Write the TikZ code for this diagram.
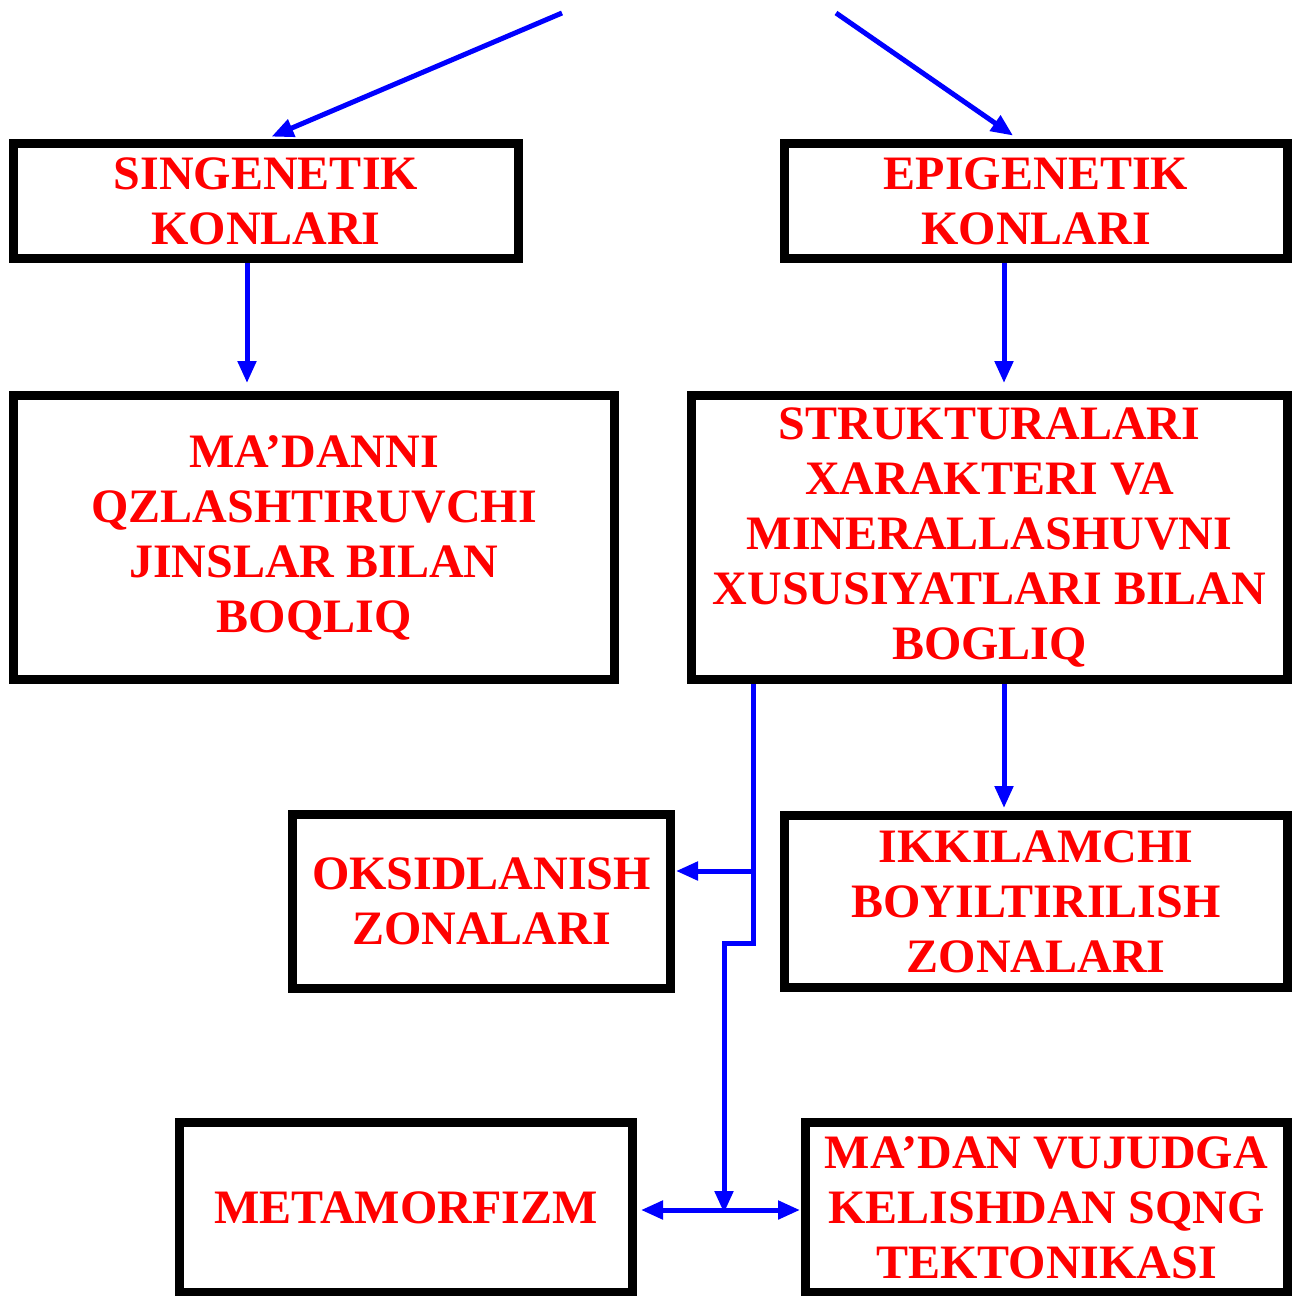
\documentclass[tikz,border=0pt]{standalone}
\usepackage{fontspec}
\setmainfont{Liberation Serif}
\usetikzlibrary{arrows.meta}
\definecolor{boxred}{RGB}{255,0,0}
\definecolor{arrblue}{RGB}{0,0,255}
\begin{document}
\begin{tikzpicture}[x=1pt,y=-1pt,
  box/.style={draw=black, line width=9pt, rectangle, inner sep=0pt, align=center,
    text=boxred, font=\fontsize{48}{55}\selectfont\bfseries},
  conn/.style={draw=arrblue, line width=5pt},
  arr/.style={conn, -{Triangle[width=18pt,length=22pt]}},
  arrs/.style={conn, {Triangle[width=18pt,length=22pt]}-{Triangle[width=18pt,length=22pt]}}]
\useasboundingbox (0,0) rectangle (1292,1296);
\node[box, minimum width=505pt, minimum height=115pt] (b1) at (266,201) {SINGENETIK\\KONLARI};
\node[box, minimum width=503pt, minimum height=115pt] (b2) at (1036,201) {EPIGENETIK\\KONLARI};
\node[box, minimum width=601pt, minimum height=284pt] (b3) at (314,537.5) {MA’DANNI\\QZLASHTIRUVCHI\\JINSLAR BILAN\\BOQLIQ};
\node[box, minimum width=596pt, minimum height=284pt] (b4) at (989.5,537.5) {STRUKTURALARI\\XARAKTERI VA\\MINERALLASHUVNI\\XUSUSIYATLARI BILAN\\BOGLIQ};
\node[box, minimum width=378pt, minimum height=174pt] (b5) at (481.5,901.5) {OKSIDLANISH\\ZONALARI};
\node[box, minimum width=503pt, minimum height=172pt] (b6) at (1036,901.5) {IKKILAMCHI\\BOYILTIRILISH\\ZONALARI};
\node[box, minimum width=453pt, minimum height=170pt] (b7) at (406,1207.5) {METAMORFIZM};
\node[box, minimum width=482pt, minimum height=170pt] (b8) at (1046.5,1207.5) {MA’DAN VUJUDGA\\KELISHDAN SQNG\\TEKTONIKASI};
% free ends and corners
\coordinate (tl) at (562,13);
\coordinate (tr) at (836,13);
\coordinate (s4) at ([xshift=-236.5pt]b4.south);
\coordinate (br) at (753,871);
\coordinate (k1) at (753,943);
\coordinate (k2) at (724,943);
\coordinate (hub) at (724,1210);
% connectors
\draw[arr, shorten >=6pt] (tl) -- (b1.north);
\draw[arr, shorten >=6pt] (tr) -- ([xshift=-18pt]b2.north);
\draw[arr, shorten >=8pt] ([xshift=-19pt]b1.south) -- ([xshift=-19pt]b1.south |- b3.north);
\draw[arr, shorten >=8pt] ([xshift=-32pt]b2.south) -- ([xshift=-32pt]b2.south |- b4.north);
\draw[arr, shorten >=3pt] ([xshift=14.5pt]b4.south) -- ([xshift=14.5pt]b4.south |- b6.north);
\draw[arr] (s4) -- (k1) -- (k2) -- ([yshift=-3pt]hub);
\draw[arr, shorten >=1pt] (br) -- (br -| b5.east);
\draw[arrs, shorten <=4pt, shorten >=1pt] (hub -| b7.east) -- (hub -| b8.west);
\end{tikzpicture}
\end{document}
